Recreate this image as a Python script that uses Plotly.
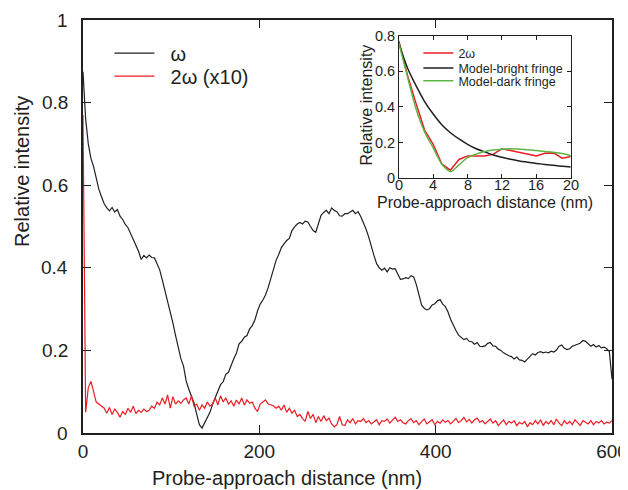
import numpy as np
import plotly.graph_objects as go

# ---------------- data ----------------
dist_main = list(range(0, 601, 3))  # nm

omega = [
    0.875, 0.76, 0.70, 0.665, 0.645, 0.615, 0.59, 0.572, 0.555, 0.545,
    0.538, 0.546, 0.535, 0.541, 0.525, 0.517, 0.505, 0.497, 0.482, 0.466,
    0.455, 0.44, 0.42, 0.43, 0.424, 0.431, 0.425, 0.424, 0.41, 0.395,
    0.37, 0.345, 0.322, 0.295, 0.266, 0.236, 0.207, 0.18, 0.162, 0.126,
    0.106, 0.087, 0.072, 0.045, 0.02, 0.012, 0.024, 0.036, 0.05, 0.07,
    0.085, 0.098, 0.117, 0.124, 0.142, 0.147, 0.166, 0.18, 0.193, 0.216,
    0.222, 0.232, 0.236, 0.252, 0.26, 0.274, 0.296, 0.312, 0.322, 0.334,
    0.352, 0.374, 0.396, 0.418, 0.432, 0.449, 0.458, 0.466, 0.471, 0.49,
    0.499, 0.506, 0.51, 0.506, 0.513, 0.511, 0.5, 0.49, 0.486, 0.51,
    0.527, 0.534, 0.539, 0.531, 0.545, 0.539, 0.536, 0.526, 0.525, 0.531,
    0.531, 0.535, 0.539, 0.531, 0.536, 0.524, 0.51, 0.494, 0.475, 0.45,
    0.43, 0.41, 0.4, 0.394, 0.399, 0.39, 0.4, 0.397, 0.398, 0.385,
    0.372, 0.373, 0.376, 0.374, 0.381, 0.378, 0.36, 0.335, 0.31, 0.302,
    0.298, 0.301, 0.31, 0.313, 0.32, 0.323, 0.312, 0.306, 0.293, 0.275,
    0.26, 0.248, 0.237, 0.232, 0.226, 0.229, 0.222, 0.221, 0.215, 0.219,
    0.21, 0.209, 0.211, 0.217, 0.219, 0.211, 0.21, 0.203, 0.2, 0.194,
    0.19, 0.187, 0.185, 0.179, 0.184, 0.177, 0.176, 0.172, 0.179, 0.186,
    0.192, 0.189, 0.195, 0.197, 0.194, 0.196, 0.194, 0.198, 0.196, 0.201,
    0.21, 0.213, 0.205, 0.202, 0.204, 0.21, 0.212, 0.215, 0.218, 0.224,
    0.222, 0.215, 0.21, 0.214, 0.208, 0.212, 0.206, 0.208, 0.204, 0.197,
    0.13,
]

two_omega_x10 = [
    0.77, 0.05, 0.11, 0.125, 0.1, 0.075, 0.07, 0.065, 0.06, 0.048,
    0.062, 0.045, 0.058, 0.05, 0.038, 0.052, 0.045, 0.06, 0.05, 0.065,
    0.047, 0.055, 0.05, 0.058, 0.052, 0.055, 0.065, 0.06, 0.075, 0.068,
    0.085, 0.07, 0.092, 0.06, 0.088, 0.07, 0.078, 0.072, 0.08, 0.085,
    0.07, 0.09, 0.065, 0.07, 0.055, 0.068, 0.06, 0.075, 0.065, 0.07,
    0.085, 0.068, 0.09, 0.075, 0.085, 0.07, 0.078, 0.065, 0.08, 0.07,
    0.085, 0.068, 0.08, 0.072, 0.075, 0.06, 0.052, 0.07, 0.075, 0.08,
    0.07, 0.068, 0.066, 0.06, 0.065, 0.055, 0.068, 0.05, 0.06, 0.048,
    0.055, 0.04, 0.045, 0.035, 0.028, 0.052, 0.035, 0.045, 0.025, 0.04,
    0.028, 0.042, 0.03, 0.036, 0.022, 0.015, 0.02, 0.04, 0.02, 0.018,
    0.032, 0.025, 0.035, 0.022, 0.03, 0.028, 0.035, 0.025, 0.03, 0.022,
    0.026, 0.032, 0.02, 0.03, 0.028, 0.034, 0.024, 0.03, 0.038, 0.028,
    0.032, 0.025, 0.022, 0.03, 0.035, 0.025, 0.03, 0.02, 0.028, 0.034,
    0.022, 0.026, 0.032, 0.02, 0.028, 0.024, 0.032, 0.026, 0.03, 0.022,
    0.028, 0.035, 0.025, 0.03, 0.038, 0.027, 0.033, 0.024, 0.032, 0.036,
    0.026, 0.03, 0.022, 0.028, 0.034, 0.024, 0.03, 0.018, 0.026, 0.032,
    0.02, 0.028, 0.024, 0.03, 0.018, 0.026, 0.022, 0.028, 0.015, 0.025,
    0.02, 0.03, 0.022, 0.032, 0.018, 0.028, 0.022, 0.03, 0.02, 0.034,
    0.024, 0.018, 0.03, 0.022, 0.028, 0.02, 0.032, 0.024, 0.018, 0.03,
    0.026, 0.022, 0.03, 0.02, 0.028, 0.024, 0.03, 0.022, 0.026, 0.024,
    0.03,
]

dist_inset = list(range(0, 21))  # nm
inset_2omega = [0.77, 0.58, 0.42, 0.27, 0.19, 0.08, 0.045, 0.105, 0.125, 0.125,
                0.125, 0.135, 0.165, 0.155, 0.145, 0.138, 0.125, 0.14, 0.142, 0.112, 0.122]
model_bright = [0.76, 0.62, 0.52, 0.43, 0.36, 0.30, 0.255, 0.22, 0.19, 0.165,
                0.148, 0.13, 0.117, 0.106, 0.097, 0.09, 0.083, 0.077, 0.072, 0.067, 0.063]
model_dark = [0.76, 0.57, 0.39, 0.26, 0.17, 0.08, 0.038, 0.075, 0.115, 0.135,
              0.15, 0.158, 0.163, 0.165, 0.163, 0.16, 0.155, 0.15, 0.145, 0.138, 0.126]

main_xticks = [0, 200, 400, 600]
main_yticks = [0, 0.2, 0.4, 0.6, 0.8, 1]
main_ytick_labels = ["0", "0.2", "0.4", "0.6", "0.8", "1"]
inset_xticks = [0, 4, 8, 12, 16, 20]
inset_xtick_labels = ["0", "4", "8", "12", "16", "20"]
inset_yticks = [0, 0.2, 0.4, 0.6, 0.8]
inset_ytick_labels = ["0", "0.2", "0.4", "0.6", "0.8"]

# ---------------- styling ----------------
TXT = "#231f20"
BLACK = "#231f20"
RED = "#ed1c24"
GREEN = "#5cb645"
FONT = "Liberation Sans, Arial, sans-serif"
NB = "\u00a0"

fig = go.Figure()

fig.add_trace(go.Scatter(x=dist_main, y=omega, mode="lines", name=NB * 2 + "ω",
                         line=dict(color=BLACK, width=1.2), legend="legend"))
fig.add_trace(go.Scatter(x=dist_main, y=two_omega_x10, mode="lines", name=NB * 2 + "2ω (x10)",
                         line=dict(color=RED, width=1.2), legend="legend3"))

fig.add_trace(go.Scatter(x=dist_inset, y=inset_2omega, mode="lines", name="2ω",
                         line=dict(color=RED, width=1.5), xaxis="x2", yaxis="y2",
                         legend="legend2"))
fig.add_trace(go.Scatter(x=dist_inset, y=model_bright, mode="lines", name="Model-bright fringe",
                         line=dict(color=BLACK, width=1.5, shape="spline"), xaxis="x2", yaxis="y2",
                         legend="legend4"))
fig.add_trace(go.Scatter(x=dist_inset, y=model_dark, mode="lines", name="Model-dark fringe",
                         line=dict(color=GREEN, width=1.5, shape="spline"), xaxis="x2", yaxis="y2",
                         legend="legend5"))

axis_common = dict(showgrid=False, zeroline=False, showline=True, mirror="ticks",
                   linecolor=BLACK, ticks="inside", tickcolor=BLACK, automargin=False)


def leg(x, y, size, iw):
    return dict(x=x, y=y, xanchor="left", yanchor="middle", bgcolor="rgba(0,0,0,0)",
                font=dict(size=size, color=TXT), itemwidth=iw, borderwidth=0)


annotations = [
    dict(text="Relative intensity", xref="paper", yref="paper", x=-0.1153, y=0.632,
         textangle=-90, showarrow=False, xanchor="center", yanchor="middle",
         font=dict(size=20, color=TXT)),
    dict(text="Probe-approach distance (nm)", xref="paper", yref="paper", x=0.3847, y=-0.109,
         showarrow=False, xanchor="center", yanchor="middle",
         font=dict(size=20, color=TXT)),
    dict(text="Probe-approach distance (nm)", xref="paper", yref="paper", x=0.76, y=0.557,
         showarrow=False, xanchor="center", yanchor="middle",
         font=dict(size=16, color=TXT)),
    dict(text="Relative intensity", xref="paper", yref="paper", x=0.536, y=0.794,
         textangle=-90, showarrow=False, xanchor="center", yanchor="middle",
         font=dict(size=16, color=TXT)),
]
# tick labels placed through the axis scales, close to the axis lines
for v, lab in zip(main_yticks, main_ytick_labels):
    annotations.append(dict(text=lab, xref="paper", yref="y", x=-0.0246, y=v,
                            showarrow=False, xanchor="right", yanchor="middle",
                            font=dict(size=19, color=TXT)))
for v, lab in zip(inset_yticks, inset_ytick_labels):
    annotations.append(dict(text=lab, xref="paper", yref="y2", x=0.5936, y=v,
                            showarrow=False, xanchor="right", yanchor="middle",
                            font=dict(size=14.5, color=TXT)))
for v, lab in zip(inset_xticks, inset_xtick_labels):
    annotations.append(dict(text=lab, xref="x2", yref="paper", x=v, y=0.6015,
                            showarrow=False, xanchor="center", yanchor="middle",
                            font=dict(size=14.5, color=TXT)))

fig.update_layout(
    width=620, height=482,
    margin=dict(l=75, r=16, t=12, b=57, autoexpand=False),
    paper_bgcolor="white", plot_bgcolor="white",
    font=dict(family=FONT, color=TXT),
    showlegend=True,
    xaxis=dict(range=[0, 600], tickvals=main_xticks, linewidth=1.5,
               ticklen=8, tickwidth=1.2, tickfont=dict(size=19),
               **axis_common),
    yaxis=dict(range=[0, 1], tickvals=main_yticks, linewidth=1.5,
               ticklen=8, tickwidth=1.2, showticklabels=False,
               **axis_common),
    xaxis2=dict(domain=[0.597, 0.922], anchor="y2", range=[0, 20],
                tickvals=inset_xticks, linewidth=1, ticklen=4, tickwidth=1,
                showticklabels=False, **axis_common),
    yaxis2=dict(domain=[0.617, 0.962], anchor="x2", range=[0, 0.8],
                tickvals=inset_yticks, linewidth=1, ticklen=4, tickwidth=1,
                showticklabels=False, **axis_common),
    legend=leg(0.050, 0.920, 20, 40),
    legend3=leg(0.050, 0.864, 20, 40),
    legend2=leg(0.634, 0.919, 12.5, 30),
    legend4=leg(0.634, 0.883, 12.5, 30),
    legend5=leg(0.634, 0.852, 12.5, 30),
    annotations=annotations,
)

fig.write_html("out.html")
